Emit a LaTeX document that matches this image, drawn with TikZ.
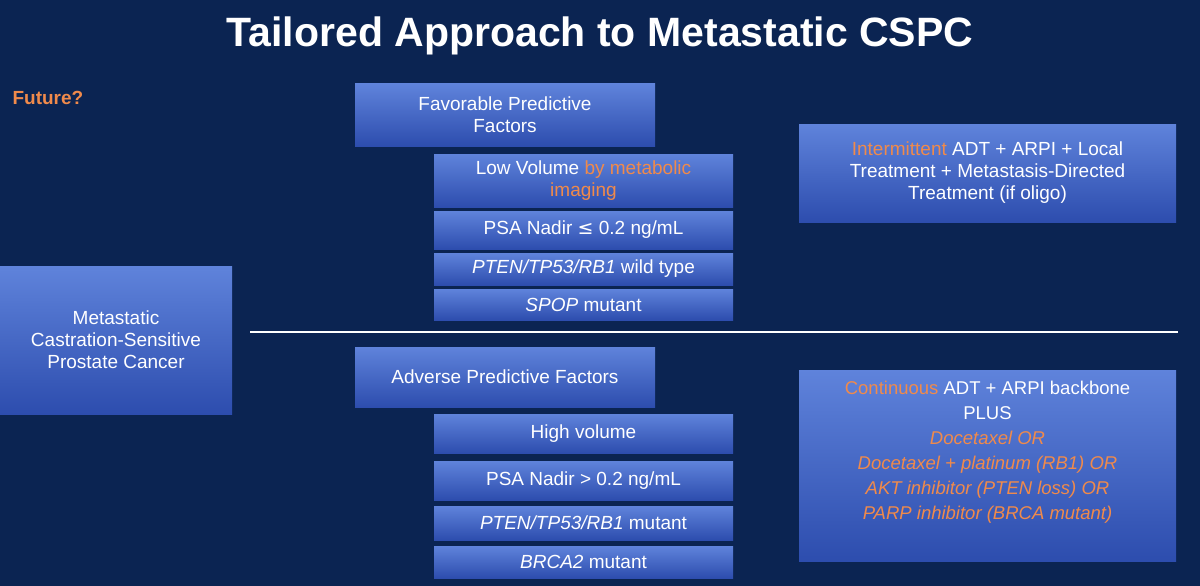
\documentclass[tikz,border=0pt]{standalone}
\usepackage{fontspec}
\setmainfont{Liberation Sans}
\newfontfamily\dv{DejaVu Sans}
\definecolor{bg}{HTML}{0B2452}
\definecolor{btop}{HTML}{5F83DB}
\definecolor{bbot}{HTML}{2D4DAE}
\definecolor{org}{HTML}{F08A4B}
\begin{document}
\begin{tikzpicture}[x=1pt,y=-1pt,
  box/.style={draw=none,top color=btop,bottom color=bbot,inner sep=0pt},
  txt/.style={text=white,align=center,font=\fontsize{19}{22}\selectfont}]
\useasboundingbox (0,0) rectangle (1200,586);
\fill[bg] (0,0) rectangle (1200,586);
\node[text=white,font=\fontsize{41}{46}\selectfont\bfseries] (title) at (600,36) {Tailored Approach to Metastatic CSPC};
\node[text=org,anchor=west,font=\fontsize{19}{22}\selectfont\bfseries] (fut) at (9,98) {Future?};
% boxes
\shade[box] (355,84) rectangle (655,146);
\node[txt] (fav) at (505,115) {Favorable Predictive\\Factors};
\shade[box] (434,154) rectangle (733,207);
\node[txt] (low) at (583.5,180.5) {Low Volume \textcolor{org}{by metabolic}\\\textcolor{org}{imaging}};
\shade[box] (434,211) rectangle (733,249);
\node[txt] (psa1) at (583.5,230) {PSA Nadir {\dv ≤} 0.2 ng/mL};
\shade[box] (434,253) rectangle (733,285);
\node[txt] (wt) at (583.5,269) {\textit{PTEN/TP53/RB1} wild type};
\shade[box] (434,289) rectangle (733,320);
\node[txt] (spop) at (583.5,304.5) {\textit{SPOP} mutant};
\shade[box] (0,266) rectangle (232,414);
\node[txt] (met) at (116,340) {Metastatic\\Castration-Sensitive\\Prostate Cancer};
\coordinate (l1) at (250,332); \coordinate (l2) at (1178,332);
\draw[white,line width=2pt] (l1) -- (l2);
\shade[box] (355,347) rectangle (655,407);
\node[txt] (adv) at (505,377) {Adverse Predictive Factors};
\shade[box] (434,414) rectangle (733,453);
\node[txt] (hv) at (583.5,433.5) {High volume};
\shade[box] (434,461) rectangle (733,500);
\node[txt] (psa2) at (583.5,480.5) {PSA Nadir > 0.2 ng/mL};
\shade[box] (434,506) rectangle (733,540);
\node[txt] (mut) at (583.5,523) {\textit{PTEN/TP53/RB1} mutant};
\shade[box] (434,546) rectangle (733,578);
\node[txt] (brca) at (583.5,562) {\textit{BRCA2} mutant};
\shade[box] (799,124) rectangle (1176,222);
\node[txt] (int) at (987.5,173) {\textcolor{org}{Intermittent} ADT + ARPI + Local\\Treatment + Metastasis-Directed\\Treatment (if oligo)};
\shade[box] (799,370) rectangle (1176,561);
\node[txt,font=\fontsize{18.5}{25}\selectfont] (cont) at (987.5,452) {\textcolor{org}{Continuous} ADT + ARPI backbone\\PLUS\\\textcolor{org}{\itshape Docetaxel OR}\\\textcolor{org}{\itshape Docetaxel + platinum (RB1) OR}\\\textcolor{org}{\itshape AKT inhibitor (PTEN loss) OR}\\\textcolor{org}{\itshape PARP inhibitor (BRCA mutant)}};
\end{tikzpicture}
\end{document}
